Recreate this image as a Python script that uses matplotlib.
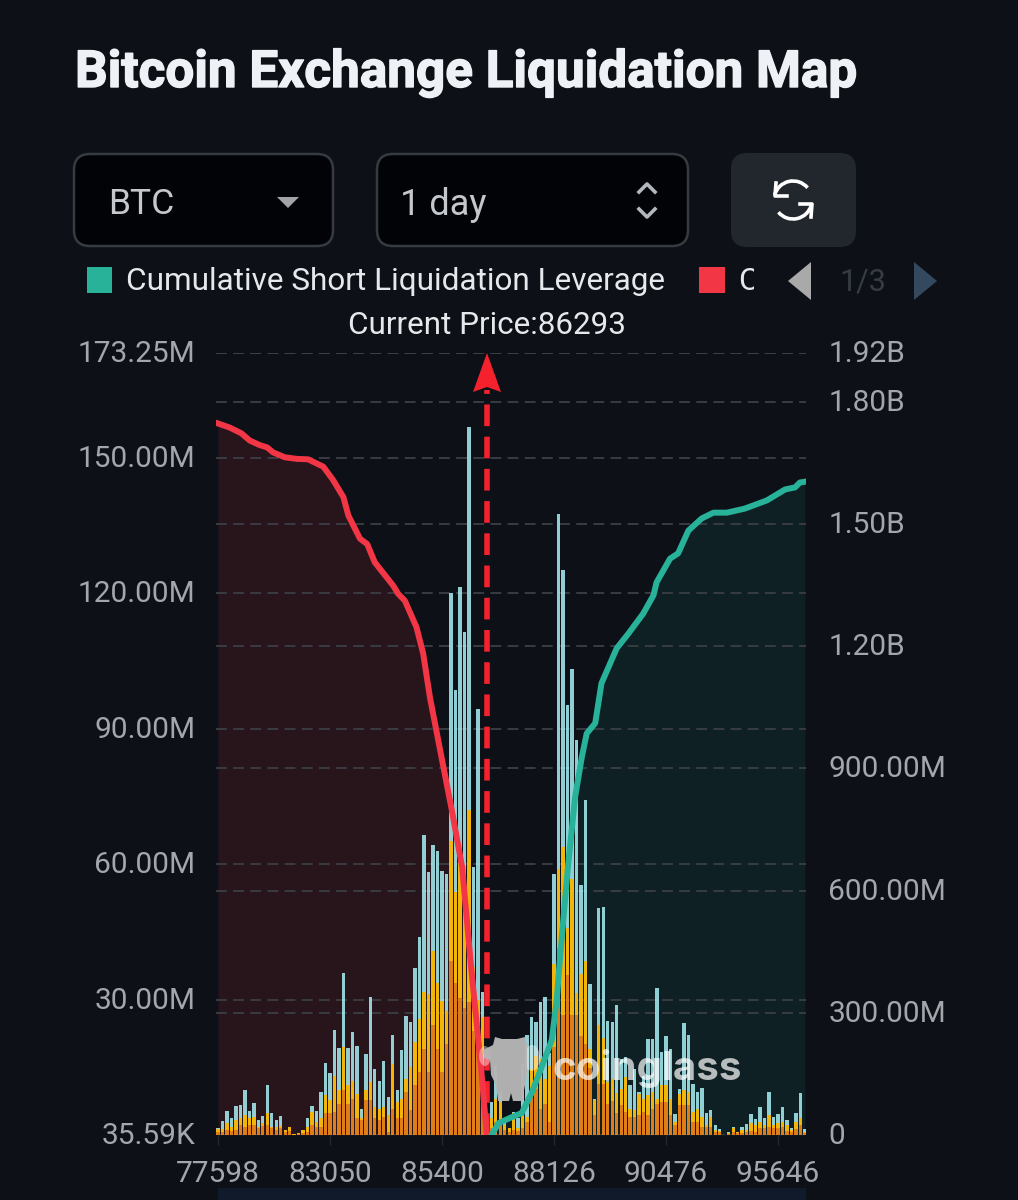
import numpy as np
import matplotlib
matplotlib.use("Agg")
import matplotlib.pyplot as plt
import matplotlib.patheffects as pe
from matplotlib.patches import FancyBboxPatch, Polygon, Rectangle, Ellipse, Arc
from matplotlib.transforms import ScaledTranslation

# ---------- data (millions; overlaid bar tops) ----------
blue_m = [1.5,3.1,5.4,3.9,6.5,6.7,10.1,5.3,7.2,3.4,4.3,11.0,4.8,3.4,4.2,1.1,1.9,0.2,0.5,1.1,
          3.7,6.5,5.3,9.6,16.0,13.8,23.4,19.3,36.0,19.3,22.8,19.7,5.7,18.0,30.5,14.6,11.9,16.5,8.5,22.1,
          9.9,18.8,26.5,25.1,37.1,43.9,66.5,58.3,64.3,62.9,58.5,57.8,120.2,98.6,121.5,111.4,156.8,59.4,94.4,31.8,
          2.9,7.4,15.3,9.6,2.9,1.5,5.1,3.7,15.8,22.1,26.1,25.1,29.6,30.5,18.2,57.9,137.6,125.1,95.3,103.2,
          87.6,55.4,74.3,33.5,8.1,50.4,50.5,25.2,25.1,28.8,16.9,17.3,11.0,14.7,9.6,13.2,21.2,21.4,32.6,18.4,
          21.9,19.0,4.6,10.3,24.9,22.1,11.3,9.6,10.5,4.9,5.6,2.3,1.3,0.1,0.6,1.9,0.8,1.7,2.4,4.6,
          3.5,6.3,3.9,9.6,4.1,4.6,6.3,3.4,1.5,4.8,9.4,1.3]
yellow_m = [1.3,1.3,2.6,1.8,3.3,3.7,4.4,3.7,4.0,1.8,2.8,4.8,1.8,1.8,2.1,1.1,1.9,0.2,0.5,1.1,
            1.8,5.1,2.9,3.7,8.8,7.7,13.1,9.9,19.5,11.0,12.1,9.2,3.7,9.9,11.8,6.3,5.7,6.3,4.4,15.8,
            7.4,8.1,12.5,15.1,20.6,25.7,31.6,31.3,40.8,33.8,29.8,27.6,65.1,53.9,63.8,59.6,72.1,37.2,29.9,26.1,
            2.9,3.7,8.1,7.4,2.2,1.5,4.8,1.5,4.4,4.0,14.7,17.6,16.9,12.5,15.4,37.9,59.0,63.8,45.8,56.8,
            31.5,35.7,38.6,19.0,7.7,24.3,21.5,11.8,12.4,9.4,10.3,12.9,5.9,5.5,9.2,8.1,8.8,9.6,8.1,11.0,
            11.0,8.1,2.9,9.2,9.9,9.6,5.1,5.9,4.0,2.2,4.0,1.1,0.9,0.1,0.4,1.5,0.7,1.1,1.1,2.6,
            2.2,2.9,2.2,4.4,2.2,2.6,2.9,2.2,1.1,2.9,3.7,0.7]
orange_m = [0.7,0.7,1.1,1.0,1.1,2.2,1.8,2.2,2.2,1.5,2.1,2.2,1.5,1.1,1.5,0.6,0.9,0.1,0.2,0.4,
            0.7,2.2,1.8,1.8,4.8,4.8,5.1,7.0,9.9,7.0,8.1,3.7,3.3,7.7,7.7,3.7,3.3,4.0,0.7,5.9,
            3.7,3.7,9.6,5.5,11.0,14.0,19.1,14.0,24.3,19.0,14.0,20.2,38.5,33.7,30.4,28.2,29.6,23.0,23.0,12.9,
            1.1,1.5,2.9,3.3,1.1,0.7,1.1,0.9,1.5,2.9,9.6,10.3,5.9,7.0,2.9,19.5,41.4,26.7,35.5,26.7,
            26.7,21.9,20.1,14.9,4.4,11.3,11.3,7.0,7.6,5.0,6.6,5.1,4.0,4.0,4.4,5.1,4.4,5.9,7.0,7.4,
            7.4,4.4,2.2,6.6,6.6,6.6,2.9,2.9,1.8,1.8,1.8,0.7,0.6,0.1,0.2,0.7,0.4,0.4,0.6,0.9,
            0.7,1.5,1.5,1.8,1.5,1.5,1.8,0.9,0.6,1.3,2.2,0.4]

# cumulative curves (billions) read at bar positions
long_pos = [0,2.6,5.2,7.1,9.3,11,12.3,14.9,17.6,20.1,23.5,25.7,28,29.1,31.7,33.3,35,37.3,39.1,40.2,41.7,44.3,45.8,47.3,49.6,52.2,54.5,56.5,58.7,60]
long_b = [1.747,1.737,1.723,1.705,1.694,1.688,1.676,1.664,1.660,1.659,1.641,1.608,1.566,1.521,1.464,1.451,1.406,1.374,1.349,1.329,1.312,1.247,1.182,1.075,0.944,0.797,0.657,0.412,0.167,0]
short_pos = [61.1,62.6,65.2,67.8,70,72.6,74.5,75.6,76.3,78.1,79.7,81.2,82.3,84.2,85.6,89,91.6,94.9,97.2,97.9,100.9,102.7,105,108,110.6,113.6,117.6,122.5,126.6,128.8,129.9,131]
short_b = [0,0.029,0.042,0.054,0.103,0.177,0.233,0.331,0.429,0.657,0.829,0.927,0.986,1.011,1.109,1.195,1.231,1.280,1.325,1.357,1.415,1.428,1.484,1.514,1.528,1.528,1.538,1.558,1.585,1.590,1.602,1.604]

x_tick_pos = [0,25,50,75,100,125]
x_tick_labels = ['77598','83050','85400','88126','90476','95646']
left_ticks = [0.03559,30,60,90,120,150,173.25]
left_labels = ['35.59K','30.00M','60.00M','90.00M','120.00M','150.00M','173.25M']
right_ticks = [0,0.3,0.6,0.9,1.2,1.5,1.8,1.92]
right_labels = ['0','300.00M','600.00M','900.00M','1.20B','1.50B','1.80B','1.92B']
current_pos = 60.1

# ---------- styling ----------
BG = '#0d1117'; TXT = '#a3a6ab'; GRID = '#3b3f46'
TEAL = '#27b299'; RED = '#f23645'
FONT = 'Roboto'
plt.rcParams['font.family'] = [FONT, 'DejaVu Sans']
W, H = 1018, 1200
fig = plt.figure(figsize=(W/100, H/100), dpi=100, facecolor=BG)
L, R, T, B = 216, 806, 353, 1135
rect = [L/W, 1-B/H, (R-L)/W, (B-T)/H]
xlim = ((L-218)/4.48, (R-218)/4.48)

ax_back = fig.add_axes(rect, zorder=1, facecolor=BG)
ax = fig.add_axes(rect, zorder=2, facecolor='none')
ax_r = fig.add_axes(rect, zorder=3, facecolor='none')
for a in (ax_back, ax, ax_r):
    a.set_xlim(*xlim)
    for s in a.spines.values():
        s.set_visible(False)
ax.set_ylim(0.03559, 173.25)
ax_back.set_ylim(0, 1.92); ax_r.set_ylim(0, 1.92)

gridkw = dict(color=GRID, lw=1.3, dashes=(6, 3.5))
# fills
ax_back.fill_between(long_pos, long_b, 0, color='#27151b', lw=0)
ax_back.fill_between(short_pos, short_b, 0, color='#0f2025', lw=0)
ax_back.set_axisbelow(False); ax_back.set_yticks(right_ticks); ax_back.set_yticklabels([])
ax_back.grid(axis='y', **gridkw); ax_back.grid(axis='x', visible=False)
ax_back.tick_params(length=0); ax_back.set_xticks([])

ax.set_yticks(left_ticks); ax.set_yticklabels(left_labels)
ax.grid(axis='y', **gridkw); ax.set_axisbelow(True)
ax.tick_params(axis='y', length=0, pad=15, labelsize=21.5, labelcolor=TXT)
ax.set_xticks(x_tick_pos); ax.set_xticklabels(x_tick_labels)
ax.tick_params(axis='x', length=7, width=1, color='#23272e', pad=11, labelsize=21.5, labelcolor=TXT)

x = np.arange(len(blue_m))
bw = 0.75
ax.bar(x, blue_m, width=bw, color='#a8f0f5', alpha=0.85, lw=0)
ax.bar(x, yellow_m, width=bw, color='#f2b50c', lw=0)
ax.bar(x, orange_m, width=bw, color='#df7d18', lw=0)

ax_r.yaxis.tick_right()
ax_r.set_yticks(right_ticks); ax_r.set_yticklabels(right_labels)
ax_r.tick_params(axis='y', length=0, pad=16, labelsize=21.5, labelcolor=TXT)
ax_r.set_xticks([])
ax_r.plot([current_pos, current_pos], [0, 1.83], color='#f5222d', lw=4.0,
          dashes=(3.9, 1.9), dash_capstyle='butt')
ax_r.plot(long_pos, long_b, color=RED, lw=4.3, solid_joinstyle='round')
ax_r.plot(short_pos, short_b, color=TEAL, lw=4.3, solid_joinstyle='round')

up = ScaledTranslation(0, 1.5/72, fig.dpi_scale_trans)
for lab in ax.get_yticklabels() + ax_r.get_yticklabels():
    lab.set_transform(lab.get_transform() + up)

# ---------- overlay in pixel coordinates ----------
ui = fig.add_axes([0, 0, 1, 1], zorder=10, facecolor='none')
ui.set_xlim(0, W); ui.set_ylim(H, 0); ui.axis('off')

# slider strip at the bottom
ui.add_patch(Rectangle((218, 1188), 588, 12, color='#111a2b', lw=0))

ui.text(75, 87, 'Bitcoin Exchange Liquidation Map', weight='bold',
        fontsize=36.9, color='#eef1f5', va='baseline', ha='left',
        path_effects=[pe.withStroke(linewidth=1.0, foreground='#eef1f5')])

def box(x0, y0, x1, y1, fc, ec, r=16):
    ui.add_patch(FancyBboxPatch((x0+r, y0+r), x1-x0-2*r, y1-y0-2*r,
                                boxstyle=f'round,pad={r},rounding_size={r}',
                                fc=fc, ec=ec, lw=1.8))
box(74, 154, 333, 246, '#020306', '#363a41')
box(377, 154, 688, 246, '#020306', '#363a41')
box(731, 153, 856, 247, '#22262d', 'none')
ui.text(108, 205, 'BTC', fontsize=25.5, color='#c4c7cc', va='center', ha='left')
ui.text(400, 205, '1 day', fontsize=26, color='#c4c7cc', va='center', ha='left')
ui.add_patch(Polygon([(277, 197), (299, 197), (288, 208)], color='#a0a3a8', lw=0))
ui.plot([639, 647, 655], [192, 184, 192], color='#b4b7bb', lw=2.6)
ui.plot([639, 647, 655], [209, 217, 209], color='#b4b7bb', lw=2.6)
# refresh icon
ui.add_patch(Arc((793, 200), 38, 38, theta1=195, theta2=320, color='white', lw=2.6))
ui.add_patch(Arc((793, 200), 38, 38, theta1=15, theta2=140, color='white', lw=2.6))
ui.plot([776, 775, 787], [183, 196, 196], color='white', lw=2.6, solid_joinstyle='round')
ui.plot([811, 812, 800], [217, 204, 204], color='white', lw=2.6, solid_joinstyle='round')

# legend row
ui.add_patch(Rectangle((87, 267), 25, 26, color=TEAL, lw=0))
ui.text(126, 282, 'Cumulative Short Liquidation Leverage', fontsize=22.7, color='#e6e8eb', va='center', ha='left')
ui.add_patch(Rectangle((699, 267), 26, 26, color=RED, lw=0))
t_c = ui.text(738, 282, 'C', fontsize=22.7, color='#e6e8eb', va='center', ha='left', clip_on=True)
t_c.set_clip_path(Rectangle((730, 260), 24, 50, transform=ui.transData))
ui.add_patch(Polygon([(788, 281), (811, 262), (811, 300)], color='#a9a9a9', lw=0))
ui.text(863, 282, '1/3', fontsize=22, color='#363c44', va='center', ha='center')
ui.add_patch(Polygon([(914, 262), (937, 281), (914, 300)], color='#34495e', lw=0))
ui.text(487, 325, 'Current Price:86293', fontsize=22.6, color='#e6e8eb', va='center', ha='center')

# arrow head of the current price marker
ui.add_patch(Polygon([(487, 353), (473, 392), (487, 387), (501, 392)], color='#f5222d', lw=0))

# watermark
G = '#b5b5b5'
ui.add_patch(Ellipse((485, 1056), 12, 20, color='white', lw=0, alpha=0.4))
ui.add_patch(Ellipse((532, 1058), 16, 26, color='white', lw=0, alpha=0.4))
ui.add_patch(Polygon([(493, 1045), (495, 1037), (502, 1039), (517, 1039), (525, 1037), (527, 1045),
                      (527, 1075), (523, 1095), (523, 1101), (513, 1101), (511, 1093), (509, 1101),
                      (498, 1101), (496, 1085), (491, 1075), (490, 1060), (484, 1058), (483, 1050)],
                     color=G, lw=0, alpha=0.97))
ui.text(552, 1069, 'coinglass', family=['Inter', 'DejaVu Sans'], weight='bold', fontsize=29,
        color='#ffffff', alpha=0.7, va='center', ha='left')

fig.savefig('out.png', dpi=100, facecolor=BG)
